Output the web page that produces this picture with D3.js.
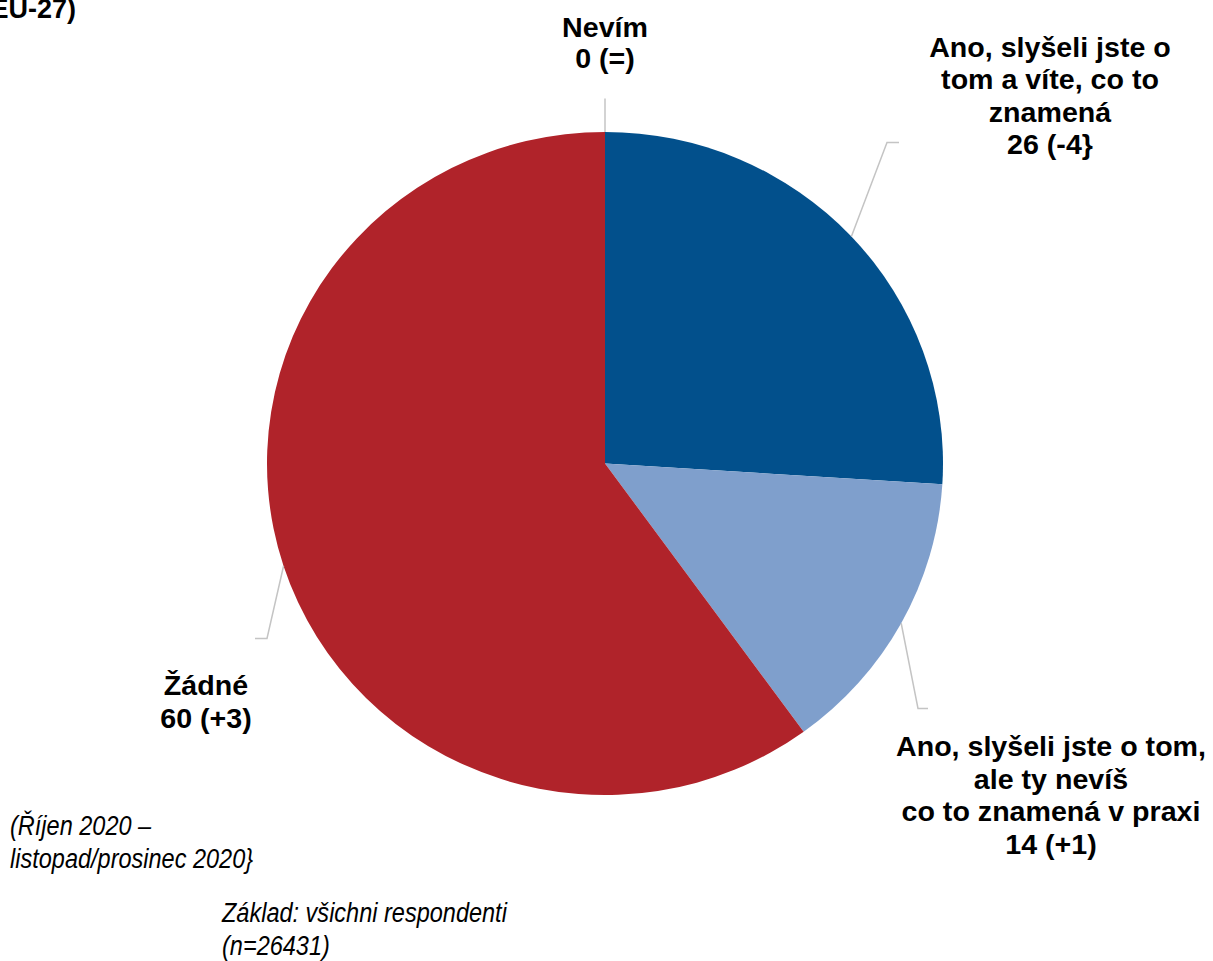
<!DOCTYPE html>
<html>
<head>
<meta charset="utf-8">
<script src="https://cdn.jsdelivr.net/npm/d3@7"></script>
<style>
  body { margin: 0; background: #fff; }
  svg { display: block; }
  .lbl { font-family: Arial, "Liberation Sans", sans-serif; font-weight: bold; font-size: 27px; fill: #000; }
  .note { font-family: Arial, "Liberation Sans", sans-serif; font-style: italic; font-size: 28px; fill: #000; }
</style>
</head>
<body>
<div id="chart"></div>
<script>
// data
var categories = ["Ano, slyšeli jste o tom a víte, co to znamená",
                  "Ano, slyšeli jste o tom, ale ty nevíš co to znamená v praxi",
                  "Žádné",
                  "Nevím"]
var values = [26, 14, 60, 0]
var changes = ["-4}", "+1", "+3", "="]
var colors = ["#02508c", "#7f9fcc", "#b0232a", "#cccccc"]

// label lines as shown in the picture
var labelLines = [
    ["Ano, slyšeli jste o", "tom a víte, co to", "znamená", "26 (-4}"],
    ["Ano, slyšeli jste o tom,", "ale ty nevíš", "co to znamená v praxi", "14 (+1)"],
    ["Žádné", "60 (+3)"],
    ["Nevím", "0 (=)"]
]

var sheet = {w: 1213, h: 961, cx: 605, cy: 463.5, r: 338, sy: 0.981}

var svg = d3.select("#chart")
    .append("svg")
    .attr("width", sheet.w)
    .attr("height", sheet.h)

var pie = d3.pie().sort(null).value(function(d){ return d })
var arcs = pie(values)

var arc = d3.arc().innerRadius(0).outerRadius(sheet.r)
var edge = d3.arc().innerRadius(sheet.r).outerRadius(sheet.r)

//pie, squashed slightly like the original
var g = svg.append("g")
    .attr("transform", "translate(" + sheet.cx + "," + sheet.cy + ") scale(1," + sheet.sy + ")")

g.selectAll("path")
    .data(arcs.filter(function(d){ return d.value > 0 }))
    .enter()
    .append("path")
    .attr("d", arc)
    .attr("fill", function(d){ return colors[d.index] })

//leader lines: start at slice edge, elbow, short flat end
var leaders = [
    {elbow: [282, -321], end: 12},
    {elbow: [313, 245], end: 10},
    {elbow: [-338, 175], end: -12},
    {elbow: [0, -365], end: 0}
]

arcs.forEach(function(d, i){
    var c = edge.centroid(d)
    var s = [sheet.cx + c[0], sheet.cy + c[1] * sheet.sy]
    if (i == 3) s = [sheet.cx, sheet.cy - sheet.r * sheet.sy]
    var e = [sheet.cx + leaders[i].elbow[0], sheet.cy + leaders[i].elbow[1]]
    var pts = [s, e, [e[0] + leaders[i].end, e[1]]]
    svg.append("path")
        .attr("d", d3.line()(pts))
        .attr("fill", "none")
        .attr("stroke", "#c4c4c4")
        .attr("stroke-width", 1.5)
})

//slice labels (text in the original is a little wide)
var labelPos = [
    {x: 1050, y: 57, dy: 32.3},
    {x: 1051, y: 756, dy: 32.7},
    {x: 206, y: 695, dy: 33},
    {x: 605, y: 37, dy: 31}
]

labelLines.forEach(function(lines, i){
    var t = svg.append("g")
        .attr("transform", "translate(" + labelPos[i].x + "," + labelPos[i].y + ") scale(1.06,1)")
        .append("text")
        .attr("class", "lbl")
        .attr("text-anchor", "middle")
    lines.forEach(function(l, j){
        t.append("tspan")
            .attr("x", 0)
            .attr("dy", j == 0 ? 0 : labelPos[i].dy)
            .text(l)
    })
})

//clipped title fragment in the corner
svg.append("text")
    .attr("class", "lbl")
    .attr("text-anchor", "end")
    .attr("x", 76)
    .attr("y", 18)
    .text("(EU-27)")

//notes, narrow italic
var notes = [
    {x: 10, y: 835, lines: ["(Říjen 2020 –", "listopad/prosinec 2020}"]},
    {x: 222, y: 922, lines: ["Základ: všichni respondenti", "(n=26431)"]}
]
notes.forEach(function(n){
    var t = svg.append("g")
        .attr("transform", "translate(" + n.x + "," + n.y + ") scale(0.84,1)")
        .append("text").attr("class", "note")
    n.lines.forEach(function(l, j){
        t.append("tspan").attr("x", 0).attr("dy", j == 0 ? 0 : 33).text(l)
    })
})
</script>
</body>
</html>
